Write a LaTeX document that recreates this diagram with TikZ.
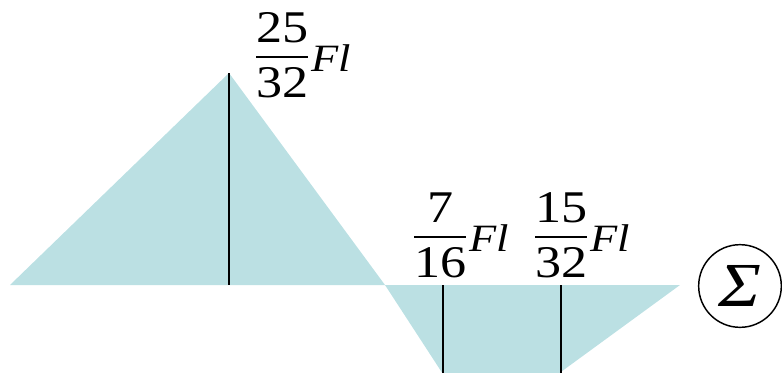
\documentclass[tikz,border=0pt]{standalone}
\usepackage{graphicx}
\usepackage{fontspec}
\setmainfont{Liberation Serif}
\usetikzlibrary{positioning}
\definecolor{moment}{HTML}{BBE0E3}
\setlength{\arrayrulewidth}{1.3pt}
\tikzset{
  area/.style={fill=moment, draw=none},
  ordinate/.style={line width=1.4pt},
  value/.style={anchor=base west, inner sep=0pt},
}
\newcommand{\momlabel}[2]{\scalebox{1.15}[1]{%
  \raisebox{-19.5pt}{\fontsize{34}{34}\selectfont
    \begin{tabular}[b]{@{}c@{}}#1\\\hline\rule{0pt}{30pt}#2\end{tabular}}%
  \kern2pt{\fontsize{29}{30}\selectfont\itshape Fl}}}

\begin{document}
\begin{tikzpicture}[x=0.75pt,y=-0.75pt]
\useasboundingbox (0,0) rectangle (782,372);
\clip (0,0) rectangle (782,372);
\coordinate (A) at (10,285);
\coordinate (top) at (229,73);
\coordinate (B) at (385,285);
\coordinate (C) at (680,285);
\coordinate (low) at (480,431);
\coordinate (m1) at (443,285);
\coordinate (m2) at (561,285);

\fill[area] (A) -- (top) -- (B) -- cycle;
\fill[area] (B) -- (low) -- (C) -- cycle;

% ordinates
\draw[ordinate] (top) -- (top |- B);
\draw[ordinate] (m1) -- (m1 |- low);
\draw[ordinate] (m2) -- (m2 |- low);

\node[value] (v1) at (256,71.7) {\momlabel{25}{32}};
\node[value] (v2) at (414,251.7) {\momlabel{7}{16}};
\node[value] (v3) at (535,251.7) {\momlabel{15}{32}};
\node[circle, draw, line width=1.1pt, minimum size=62pt, inner sep=0pt,
  font=\fontsize{47}{50}\selectfont\itshape] (sum) at (740,286) {\scalebox{1.15}[1]{Σ}};
\end{tikzpicture}
\end{document}
